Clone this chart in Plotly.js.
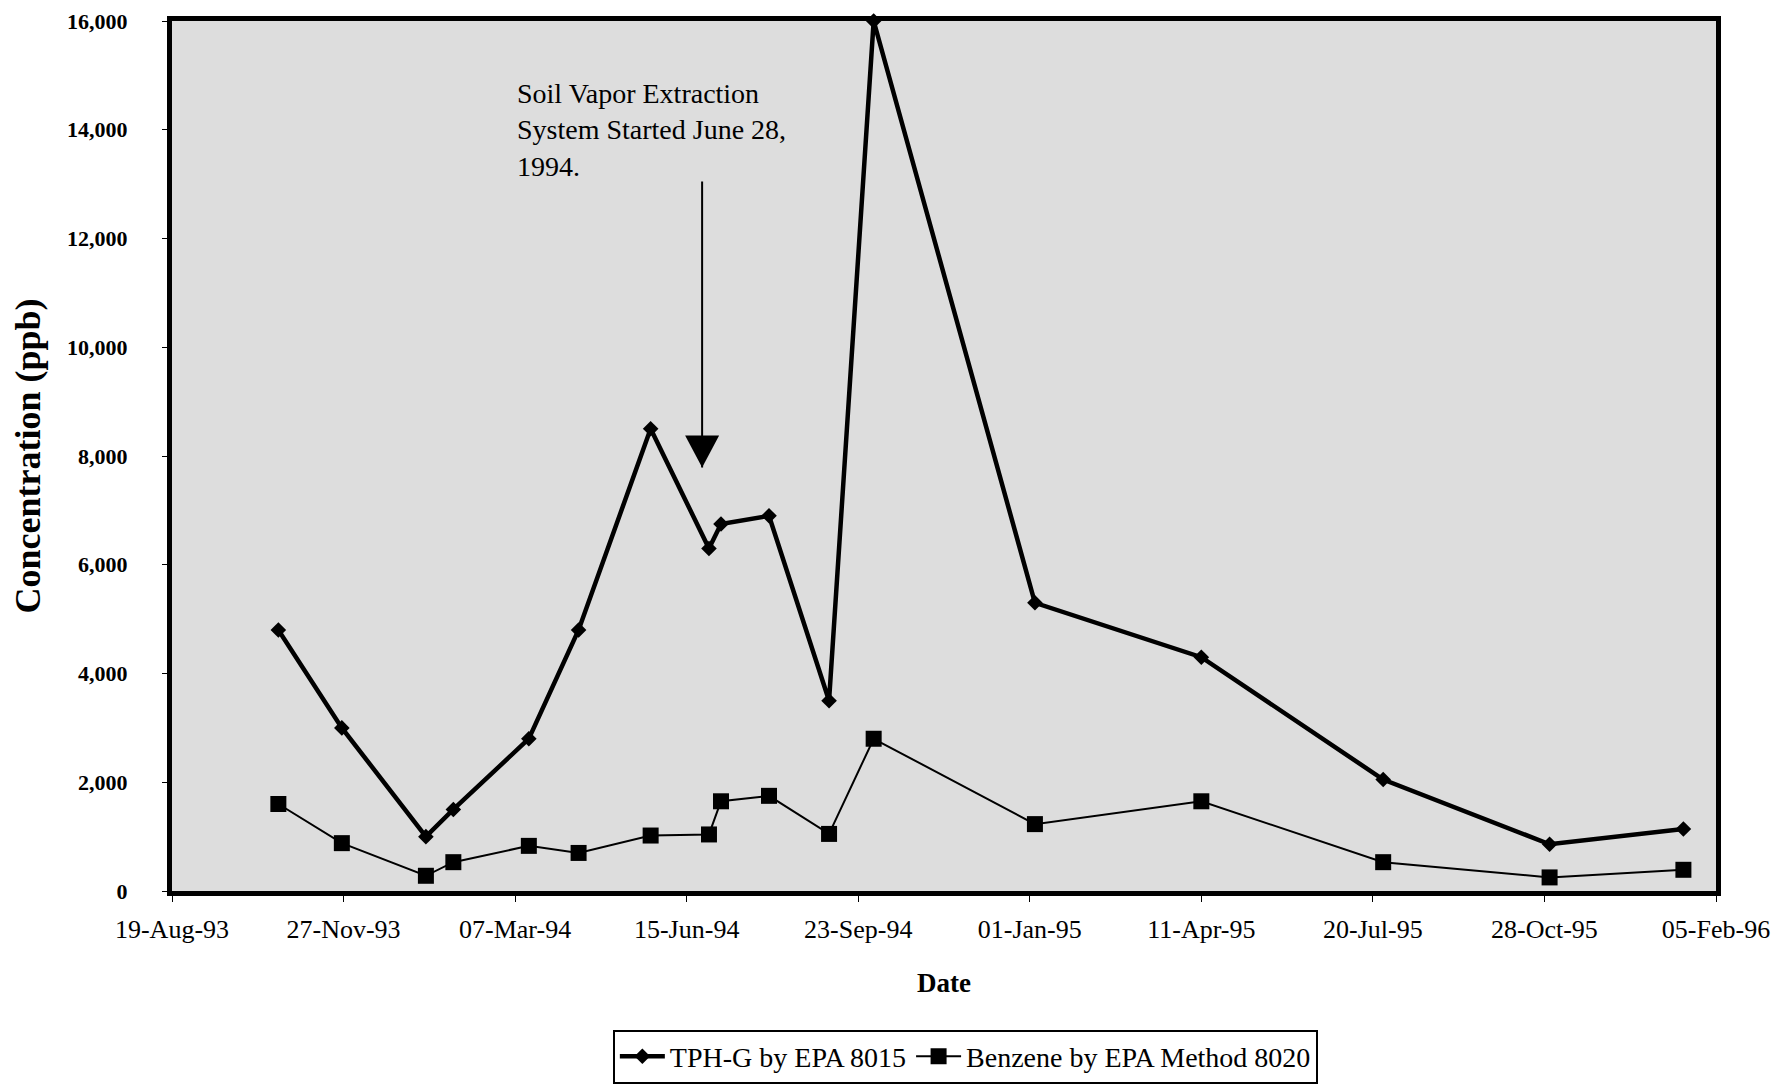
<!DOCTYPE html>
<html>
<head>
<meta charset="utf-8">
<script src="https://cdn.plot.ly/plotly-3.0.1.min.js"></script>
<style>
  html, body { margin: 0; padding: 0; background: #ffffff; }
  #chart { width: 1791px; height: 1086px; }
</style>
</head>
<body>
<div id="chart"></div>
<script>
// ---- data ----
const sampleDates = ['1993-10-20','1993-11-26','1994-01-14','1994-01-30','1994-03-15','1994-04-13','1994-05-25','1994-06-28','1994-07-05','1994-08-02','1994-09-06','1994-10-02','1995-01-04','1995-04-11','1995-07-26','1995-10-31','1996-01-17'];
const tphG     = [4800, 3000, 1000, 1500, 2800, 4800, 8500, 6300, 6750, 6900, 3500, 16000, 5300, 4300, 2050, 860, 1140];
const benzene  = [1600,  880,  280,  530,  830,  700, 1020, 1040, 1650, 1750, 1050,  2800, 1230, 1650,  530, 250,  390];

const seriesNames = ['TPH-G by EPA 8015', 'Benzene by EPA Method 8020'];
const xRange = ['1993-08-19', '1996-02-05'];
const yRange = [0, 16000];

// annotation: start of soil vapor extraction
const noteText = 'Soil Vapor Extraction<br>System Started June 28,<br>1994.';
const noteDate = '1994-03-07';
const noteValue = 14980;
const arrowDate = '1994-06-24';
const arrowTop = 13050;
const arrowTip = 7790;

const FONT = '"Liberation Serif", "Times New Roman", Times, serif';

const traces = [
  {
    x: sampleDates, y: tphG, name: seriesNames[0],
    type: 'scatter', mode: 'lines+markers', cliponaxis: false,
    line: { color: '#000000', width: 4.5 },
    marker: { symbol: 'diamond', size: 12, color: '#000000' }
  },
  {
    x: sampleDates, y: benzene, name: seriesNames[1],
    type: 'scatter', mode: 'lines+markers', cliponaxis: false,
    line: { color: '#000000', width: 2 },
    marker: { symbol: 'square', size: 16, color: '#000000' }
  }
];

const layout = {
  width: 1791, height: 1086,
  margin: { l: 172, r: 75, t: 21, b: 195, autoexpand: false },
  paper_bgcolor: '#ffffff',
  plot_bgcolor: '#dddddd',
  font: { family: FONT, color: '#000000', size: 24 },
  showlegend: true,
  legend: {
    orientation: 'h',
    xref: 'container', yref: 'container',
    x: 0.539, xanchor: 'center',
    y: 0.052, yanchor: 'top',
    bgcolor: '#ffffff',
    bordercolor: '#000000', borderwidth: 2,
    font: { family: FONT, size: 28, color: '#000000' },
    itemwidth: 45,
    tracegroupgap: 0
  },
  xaxis: {
    type: 'date',
    automargin: false,
    range: xRange,
    tick0: xRange[0],
    dtick: 100 * 86400000,
    tickformat: '%d-%b-%y',
    ticks: 'outside', ticklen: 6, tickwidth: 1, tickcolor: '#000000',
    ticklabelstandoff: 5,
    tickfont: { family: FONT, size: 26, color: '#000000' },
    showgrid: false, zeroline: false,
    showline: true, linecolor: '#000000', linewidth: 5, mirror: true,
    title: { text: 'Date', font: { family: FONT, size: 27, color: '#000000', weight: 'bold' }, standoff: 31 }
  },
  yaxis: {
    automargin: false,
    range: yRange,
    dtick: 2000,
    tickformat: ',d',
    ticks: 'outside', ticklen: 5, tickwidth: 1, tickcolor: '#000000',
    ticklabelstandoff: 30,
    tickfont: { family: FONT, size: 22, color: '#000000', weight: 'bold' },
    showgrid: false, zeroline: false,
    showline: true, linecolor: '#000000', linewidth: 5, mirror: true,
    title: { text: 'Concentration (ppb)', font: { family: FONT, size: 36, color: '#000000', weight: 'bold' }, standoff: 17 }
  },
  annotations: [
    {
      xref: 'x', yref: 'y', x: noteDate, y: noteValue,
      xanchor: 'left', yanchor: 'top', align: 'left',
      text: noteText, showarrow: false,
      font: { family: FONT, size: 28, color: '#000000' }
    }
  ],
  shapes: [
    {
      type: 'line', xref: 'x', yref: 'y',
      x0: arrowDate, x1: arrowDate, y0: arrowTop, y1: arrowTip,
      line: { color: '#000000', width: 2 }
    },
    {
      type: 'path', xref: 'x', yref: 'y',
      xsizemode: 'pixel', ysizemode: 'pixel',
      xanchor: arrowDate, yanchor: arrowTip,
      path: 'M0,0 L-17,32 L17,32 Z',
      fillcolor: '#000000', line: { width: 0 }
    }
  ]
};

Plotly.newPlot('chart', traces, layout, { displayModeBar: false, staticPlot: true });
</script>
</body>
</html>
